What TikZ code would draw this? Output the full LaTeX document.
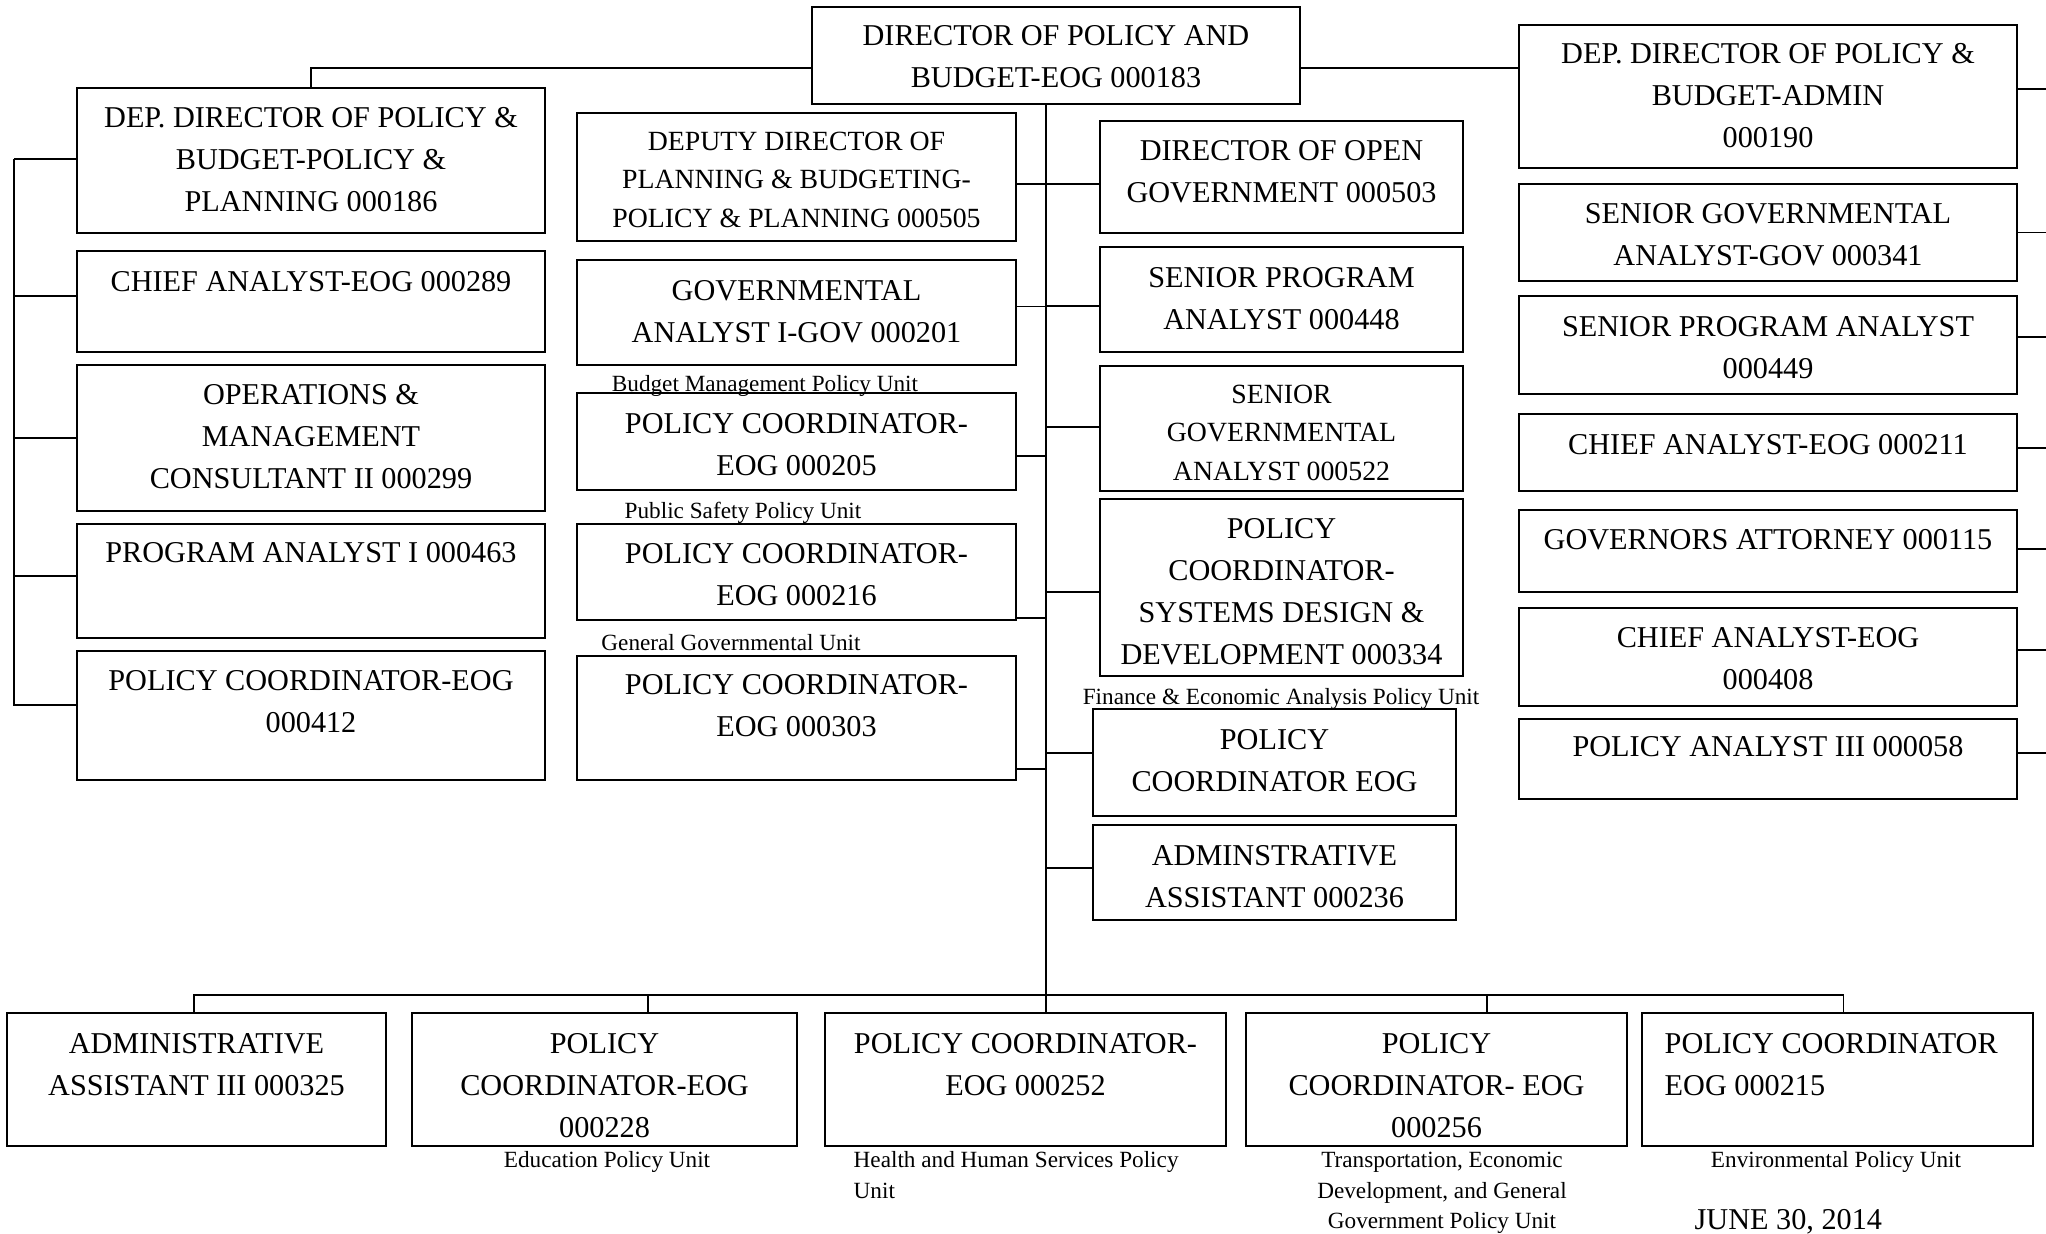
\documentclass[tikz,border=0pt]{standalone}
\usepackage{fontspec}
\setmainfont{Liberation Serif}
\usetikzlibrary{calc}

\tikzset{
  orgbox/.style={draw, line width=0.6pt, inner sep=0pt, outer sep=0pt},
  boxtext/.style={inner sep=0pt, align=center, font=\fontsize{8.6}{11.95}\selectfont},
  smalltext/.style={inner sep=0pt, align=center, font=\fontsize{7.9}{11}\selectfont},
  unitlabel/.style={inner sep=0pt, align=center, font=\fontsize{6.6}{8.8}\selectfont},
  link/.style={line width=0.55pt},
}

% #1 text style, #2 name, #3/#4 top-left corner, #5/#6 bottom-right corner,
% #7 top of the first text line, #8 text
\newcommand\personbox[8][boxtext]{%
  \node[orgbox, minimum width={(#5-#3)*0.01cm}, minimum height={(#6-#4)*0.01cm},
        anchor=north west] (#2) at (#3,#4) {};
  \node[#1, anchor=north] (#2-text) at ({(#3+#5)/2},#7) {#8};
}

\begin{document}
\begin{tikzpicture}[x=0.01cm, y=-0.01cm]
\useasboundingbox (0,0) rectangle (2046,1233);
\clip (0,0) rectangle (2046,1233);

% head of the office
\personbox{T}{812}{7}{1300}{104}{25}{DIRECTOR OF POLICY AND\\BUDGET-EOG 000183}

% policy & planning deputy and staff
\personbox{L1}{77}{88}{545}{233}{107}{DEP. DIRECTOR OF POLICY \&\\BUDGET-POLICY \&\\PLANNING 000186}
\personbox{L2}{77}{251}{545}{352}{271}{CHIEF ANALYST-EOG 000289}
\personbox{L3}{77}{365}{545}{511}{384}{OPERATIONS \&\\MANAGEMENT\\CONSULTANT II 000299}
\personbox{L4}{77}{524}{545}{638}{542}{PROGRAM ANALYST I 000463}
\personbox{L5}{77}{651}{545}{780}{670}{POLICY COORDINATOR-EOG\\000412}

% direct reports, left of the trunk
\personbox[smalltext]{M1}{577}{113}{1016}{241}{131}{DEPUTY DIRECTOR OF\\PLANNING \& BUDGETING-\\POLICY \& PLANNING 000505}
\personbox{M2}{577}{260}{1016}{365}{280}{GOVERNMENTAL\\ANALYST I-GOV 000201}
\personbox{M3}{577}{393}{1016}{490}{413}{POLICY COORDINATOR-\\EOG 000205}
\personbox{M4}{577}{524}{1016}{620}{543}{POLICY COORDINATOR-\\EOG 000216}
\personbox{M5}{577}{656}{1016}{780}{674}{POLICY COORDINATOR-\\EOG 000303}

% direct reports, right of the trunk
\personbox{C1}{1100}{121}{1463}{233}{140}{DIRECTOR OF OPEN\\GOVERNMENT 000503}
\personbox{C2}{1100}{247}{1463}{352}{267}{SENIOR PROGRAM\\ANALYST 000448}
\personbox[smalltext]{C3}{1100}{366}{1463}{491}{384}{SENIOR\\GOVERNMENTAL\\ANALYST 000522}
\personbox{C4}{1100}{499}{1463}{676}{518}{POLICY\\COORDINATOR-\\SYSTEMS DESIGN \&\\DEVELOPMENT 000334}
\personbox{C5}{1093}{709}{1456}{816}{729}{POLICY\\COORDINATOR EOG}
\personbox{C6}{1093}{825}{1456}{920}{845}{ADMINSTRATIVE\\ASSISTANT 000236}

% administration deputy and staff
\personbox{R1}{1519}{25}{2017}{168}{43}{DEP. DIRECTOR OF POLICY \&\\BUDGET-ADMIN\\000190}
\personbox{R2}{1519}{184}{2017}{281}{203}{SENIOR GOVERNMENTAL\\ANALYST-GOV 000341}
\personbox{R3}{1519}{296}{2017}{394}{316}{SENIOR PROGRAM ANALYST\\000449}
\personbox{R4}{1519}{414}{2017}{491}{434}{CHIEF ANALYST-EOG 000211}
\personbox{R5}{1519}{510}{2017}{592}{529}{GOVERNORS ATTORNEY 000115}
\personbox{R6}{1519}{608}{2017}{706}{627}{CHIEF ANALYST-EOG\\000408}
\personbox{R7}{1519}{719}{2017}{799}{736}{POLICY ANALYST III 000058}

% bottom row
\personbox{B1}{7}{1013}{386}{1146}{1033}{ADMINISTRATIVE\\ASSISTANT III 000325}
\personbox{B2}{412}{1013}{797}{1146}{1033}{POLICY\\COORDINATOR-EOG\\000228}
\personbox{B3}{825}{1013}{1226}{1146}{1033}{POLICY COORDINATOR-\\EOG 000252}
\personbox{B4}{1246}{1013}{1627}{1146}{1033}{POLICY\\COORDINATOR- EOG\\000256}
\node[orgbox, minimum width={391*0.01cm}, minimum height={133*0.01cm}, anchor=north west] (B5) at (1642,1013) {};
\node[boxtext, align=left, anchor=north west] (B5-text) at (1664,1033) {POLICY COORDINATOR\\EOG 000215};

% unit captions
\node[unitlabel, anchor=north] (u-budget) at (765,375) {Budget Management Policy Unit};
\node[unitlabel, anchor=north] (u-safety) at (743,501) {Public Safety Policy Unit};
\node[unitlabel, anchor=north] (u-general) at (731,634) {General Governmental Unit};
\node[unitlabel, anchor=north] (u-finance) at (1281,688) {Finance \& Economic Analysis Policy Unit};
\node[unitlabel, anchor=north] (u-edu) at (607,1151) {Education Policy Unit};
\node[unitlabel, anchor=north west, align=left] (u-health) at (853,1151) {Health and Human Services Policy\\Unit};
\node[unitlabel, anchor=north] (u-transp) at (1442,1151) {Transportation, Economic\\Development, and General\\Government Policy Unit};
\node[unitlabel, anchor=north] (u-env) at (1836,1151) {Environmental Policy Unit};
\node[boxtext, anchor=north west] (date) at (1694,1209) {JUNE 30, 2014};

% main trunk
\coordinate (tk) at ($(T.south)+(-10,0)$);
\draw[link] (tk) -- (tk |- B3.north);

% top-level branches
\draw[link] ($(T.west)+(0,12.5)$) -| (L1.north);
\draw[link] ($(T.east)+(0,12.5)$) -- ($(R1.west)+(0,-28.5)$);

% left bus under the policy & planning deputy
\coordinate (lb) at ($(L1.west)+(-63,-1.5)$);
\draw[link] ($(L1.west)+(0,-1.5)$) -- (lb);
\foreach \n/\d in {L2/-5.5,L3/0,L4/-5,L5/-10.5}
  \draw[link] ($(\n.west)+(0,\d)$) -| (lb);

% direct reports hanging off the trunk
\foreach \n/\d in {M1/7,M2/-6,M3/14.5,M4/46,M5/51}
  \draw[link] ($(\n.east)+(0,\d)$) -| (tk);
\foreach \n/\d in {C1/7,C2/6.5,C3/-1.5,C4/4.5,C5/-9.5,C6/-4.5}
  \draw[link] ($(\n.west)+(0,\d)$) -| (tk);

% bottom bus
\coordinate (bus) at ($(tk |- B3.north)+(0,-18)$);
\foreach \n/\d in {B1/-2.5,B2/43.5,B4/50.5,B5/6}
  \draw[link] ($(\n.north)+(\d,0)$) |- (bus);

% stubs leading off to the right
\foreach \n/\d in {R1/-7.5,R2/0,R3/-8,R4/-4.5,R5/-2,R6/-7,R7/-6}
  \draw[link] ($(\n.east)+(0,\d)$) -- ++(40,0);
\end{tikzpicture}
\end{document}
